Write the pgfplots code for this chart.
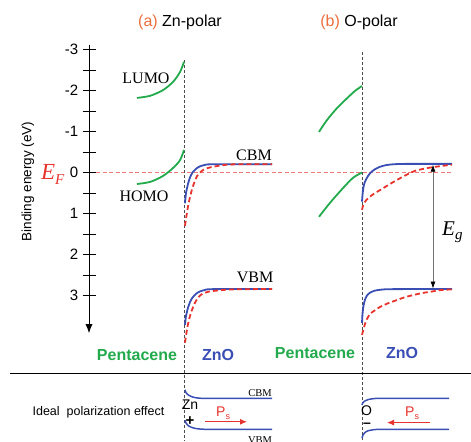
\documentclass[border=0pt]{standalone}
\usepackage{pgfplots}
\pgfplotsset{compat=1.18}
\usepackage{fontspec}
\setmainfont{Liberation Sans}
\newfontfamily\tnr{Liberation Serif}
\usetikzlibrary{arrows.meta}
\definecolor{pgreen}{RGB}{34,170,76}
\definecolor{zblue}{RGB}{58,78,180}
\definecolor{zred}{RGB}{232,50,45}
\definecolor{lred}{RGB}{240,120,120}
\definecolor{aorange}{RGB}{235,110,60}
\newcommand{\fs}[1]{\fontsize{#1}{#1}\selectfont}
\begin{document}
\begin{tikzpicture}
\begin{axis}[width=471pt,height=441pt,scale only axis,
  xmin=0,xmax=471,ymin=-4.2073,ymax=6.5488,y dir=reverse,
  hide axis,clip=false]
\coordinate (SW) at (rel axis cs:0,0);
\coordinate (NE) at (rel axis cs:1,1);
% Fermi level
\addplot[lred,dash pattern=on 4pt off 2.5pt,line width=0.7pt] coordinates {(83,0) (453,0)};
% interface lines
\draw[dash pattern=on 3pt off 2pt,black!70,line width=0.7pt] (axis cs:184,-2.74) -- (axis cs:184,6.5488);
\draw[dash pattern=on 3pt off 2pt,black!70,line width=0.7pt] (axis cs:362,-2.94) -- (axis cs:362,6.5488);
% energy axis
\draw[line width=0.9pt,-{Latex[length=9pt,width=7pt]}] (axis cs:89,-3.12) -- (axis cs:89,3.92);
\pgfplotsinvokeforeach{-3,-2.5,-2,-1.5,-1,-0.5,0,0.5,1,1.5,2,2.5,3}{
  \draw[line width=0.8pt] (axis cs:82.5,#1) -- (axis cs:96,#1);}
\pgfplotsinvokeforeach{-3,-2,-1,0,1,2,3}{
  \node[anchor=east,inner sep=0pt,font=\fs{15}] at (axis cs:78.5,#1) {#1};}
\node[rotate=90,inner sep=0pt,font=\fs{13.5}] at (axis cs:28,0.22) {Binding energy (eV)};
\node[anchor=base west,inner sep=0pt,text=zred] at (axis cs:41,0.17) {\tnr\itshape\fs{23}E\raisebox{-5pt}{\fs{15}F}};
% titles
\node[inner sep=0pt,font=\fs{16}] at (axis cs:180,-3.67) {\textcolor{aorange}{(a)} Zn-polar};
\node[inner sep=0pt,font=\fs{16}] at (axis cs:359,-3.65) {\textcolor{aorange}{(b)} O-polar};
% pentacene (a)
\addplot[pgreen,line width=1.8pt,smooth] coordinates {(137,-1.82) (150,-1.87) (163,-2.01) (173,-2.21) (180,-2.45) (184,-2.70)};
\addplot[pgreen,line width=1.8pt,smooth] coordinates {(137,0.28) (150,0.23) (163,0.085) (173,-0.11) (180,-0.30) (184,-0.55)};
\node[inner sep=0pt,font=\tnr\fs{16}] at (axis cs:146,-2.30) {LUMO};
\node[inner sep=0pt,font=\tnr\fs{16}] at (axis cs:144,0.57) {HOMO};
% ZnO (a)
\addplot[zblue,line width=1.8pt,smooth,tension=0.4] coordinates {(185,0.75) (186,0.5) (188,0.28) (190,0.12) (192.5,0.0) (196.5,-0.1) (200,-0.15) (205,-0.185) (212,-0.2) (272,-0.2)};
\addplot[zred,line width=1.8pt,dash pattern=on 5pt off 3pt,smooth,tension=0.4] coordinates {(185,1.3) (186.2,1.1) (188,0.83) (190,0.6) (192,0.41) (194.5,0.23) (197,0.09) (200,0.0) (203,-0.06) (208,-0.11) (213,-0.14) (223,-0.18) (235,-0.2) (272,-0.2)};
\addplot[zblue,line width=1.8pt,smooth,tension=0.4] coordinates {(185,3.72) (186,3.5) (188,3.3) (190,3.16) (192.5,3.05) (196.5,2.95) (200,2.90) (205,2.865) (212,2.845) (272,2.84)};
\addplot[zred,line width=1.8pt,dash pattern=on 5pt off 3pt,smooth,tension=0.4] coordinates {(185,4.15) (186.2,3.95) (188,3.7) (190,3.5) (192,3.35) (194.5,3.2) (197,3.09) (200,3.0) (203,2.95) (208,2.91) (213,2.89) (223,2.865) (235,2.85) (272,2.84)};
\node[inner sep=0pt,font=\tnr\fs{16}] at (axis cs:254,-0.43) {CBM};
\node[inner sep=0pt,font=\tnr\fs{16}] at (axis cs:255,2.57) {VBM};
% pentacene (b)
\addplot[pgreen,line width=1.8pt,smooth] coordinates {(319,-0.99) (327,-1.28) (337,-1.57) (347,-1.81) (355,-1.99) (362,-2.11)};
\addplot[pgreen,line width=1.8pt,smooth] coordinates {(319,1.08) (330,0.74) (343,0.38) (353,0.13) (362,0.0)};
% ZnO (b)
\addplot[zblue,line width=1.8pt,smooth,tension=0.4] coordinates {(362,0.71) (362.7,0.5) (363.5,0.35) (365,0.22) (366.7,0.14) (369,0.05) (371.7,-0.02) (375,-0.08) (380,-0.14) (386,-0.18) (393,-0.2) (405,-0.21) (452,-0.21)};
\addplot[zred,line width=1.8pt,dash pattern=on 5pt off 3pt,smooth,tension=0.4] coordinates {(362,0.91) (363.3,0.79) (366,0.68) (370,0.59) (375,0.5) (380,0.43) (390,0.28) (403,0.1) (415,-0.04) (430,-0.12) (445,-0.17) (452,-0.19)};
\addplot[zblue,line width=1.8pt,smooth,tension=0.4] coordinates {(362,3.67) (362.5,3.45) (363.5,3.25) (365,3.1) (367,3.0) (370,2.93) (375,2.88) (382,2.855) (392,2.845) (452,2.84)};
\addplot[zred,line width=1.8pt,dash pattern=on 5pt off 3pt,smooth,tension=0.4] coordinates {(362,3.96) (364,3.78) (366,3.62) (370,3.45) (375,3.36) (380,3.28) (388,3.19) (397,3.11) (405,3.04) (413,2.99) (422,2.94) (430,2.91) (440,2.87) (452,2.85)};
% band gap arrow
\draw[black!55,line width=0.7pt,{Latex[length=7pt,width=5pt,black]}-{Latex[length=7pt,width=5pt,black]}] (axis cs:433,-0.19) -- (axis cs:433,2.83);
\node[anchor=base west,inner sep=0pt] at (axis cs:442,1.53) {\tnr\itshape\fs{21}E\raisebox{-4pt}{\fs{15}g}};
% material labels
\node[inner sep=0pt,font=\bfseries\fs{16},text=pgreen] at (axis cs:137,4.45) {Pentacene};
\node[inner sep=0pt,font=\bfseries\fs{16},text=zblue] at (axis cs:218,4.45) {ZnO};
\node[inner sep=0pt,font=\bfseries\fs{16},text=pgreen] at (axis cs:315,4.40) {Pentacene};
\node[inner sep=0pt,font=\bfseries\fs{16},text=zblue] at (axis cs:402,4.40) {ZnO};
% lower panel
\draw[line width=0.9pt] (axis cs:10,4.89) -- (axis cs:471,4.89);
\node[inner sep=0pt,font=\fs{12.5}] at (axis cs:98.5,5.84) {Ideal\ \ polarization effect};
\addplot[zblue,line width=1.5pt,smooth,tension=0.4] coordinates {(185,5.30) (186,5.37) (188,5.42) (191,5.46) (195,5.49) (200,5.505) (210,5.51) (272,5.51)};
\addplot[zblue,line width=1.5pt,smooth,tension=0.4] coordinates {(185,6.04) (186,6.11) (188,6.17) (191,6.21) (195,6.24) (200,6.257) (210,6.264) (272,6.264)};
\node[inner sep=0pt,font=\tnr\fs{10.5}] at (axis cs:260,5.37) {CBM};
\node[inner sep=0pt,font=\tnr\fs{10.5}] at (axis cs:260,6.53) {VBM};
\node[inner sep=0pt,font=\fs{14}] at (axis cs:190,5.67) {Zn};
\node[inner sep=0pt,font=\bfseries\fs{15}] at (axis cs:190,6.07) {+};
\node[anchor=base west,inner sep=0pt,text=zred] at (axis cs:216,5.95) {\fs{14}P\raisebox{-3pt}{\fs{9}s}};
\draw[zred,line width=1pt,-{Latex[length=7pt,width=6pt]}] (axis cs:205,6.08) -- (axis cs:247,6.08);
\addplot[zblue,line width=1.5pt,smooth,tension=0.4] coordinates {(362,5.67) (363,5.61) (365,5.57) (368,5.54) (372,5.52) (380,5.51) (449,5.51)};
\addplot[zblue,line width=1.5pt,smooth,tension=0.4] coordinates {(362,6.48) (363,6.40) (365,6.34) (368,6.30) (372,6.28) (380,6.266) (449,6.264)};
\node[inner sep=0pt,font=\fs{14}] at (axis cs:366.5,5.80) {O};
\node[inner sep=0pt,font=\bfseries\fs{14}] at (axis cs:367,6.17) {--};
\node[anchor=base west,inner sep=0pt,text=zred] at (axis cs:405,5.95) {\fs{14}P\raisebox{-3pt}{\fs{9}s}};
\draw[zred,line width=1pt,-{Latex[length=7pt,width=6pt]}] (axis cs:430,6.10) -- (axis cs:387,6.10);
\end{axis}
\pgfresetboundingbox
\path[use as bounding box] (SW) rectangle (NE);
\end{tikzpicture}
\end{document}
